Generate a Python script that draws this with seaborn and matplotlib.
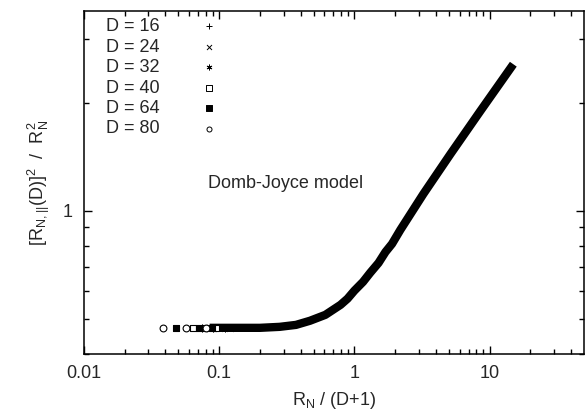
import numpy as np
import pandas as pd
import matplotlib
matplotlib.use('Agg')
import matplotlib.pyplot as plt
import seaborn as sns
from matplotlib.ticker import FixedLocator, NullFormatter, FixedFormatter

# collapsed master curve
curve_x = [0.085, 0.20, 0.28, 0.37, 0.47, 0.61, 0.79, 0.89, 1.0, 1.16, 1.31,
           1.51, 1.70, 1.90, 2.19, 3.24, 5.14, 8.58, 15.0]
curve_y = [0.473, 0.473, 0.476, 0.482, 0.495, 0.514, 0.548, 0.570, 0.600, 0.635, 0.673,
           0.717, 0.769, 0.810, 0.886, 1.115, 1.44, 1.90, 2.56]

# individual points at the small-R_N end of each series
d_labels = ['D = 16', 'D = 24', 'D = 32', 'D = 40', 'D = 64', 'D = 80']
d16_x = [0.105, 0.13, 0.16]
d16_y = [0.473, 0.473, 0.474]
d24_x = [0.085, 0.10, 0.12]
d24_y = [0.473, 0.472, 0.473]
d32_x = [0.075, 0.09, 0.11]
d32_y = [0.472, 0.473, 0.473]
d40_x = [0.064, 0.078, 0.095]
d40_y = [0.472, 0.472, 0.473]
d64_x = [0.048, 0.071, 0.088]
d64_y = [0.472, 0.472, 0.473]
d80_x = [0.0385, 0.057, 0.080]
d80_y = [0.472, 0.472, 0.472]

sns.set_style('ticks')
plt.rcParams['font.family'] = ['Liberation Sans', 'DejaVu Sans']
plt.rcParams['mathtext.default'] = 'regular'
plt.rcParams['xtick.direction'] = 'in'
plt.rcParams['ytick.direction'] = 'in'

fig = plt.figure(figsize=(5.85, 4.17), dpi=100)
ax = fig.add_axes([84 / 585, 1 - 354 / 417, 500 / 585, 343 / 417])

band = pd.DataFrame({'x': curve_x, 'y': curve_y})
sns.lineplot(data=band, x='x', y='y', ax=ax, color='black', lw=6,
             solid_capstyle='butt', legend=False, zorder=2)

series = [
    (d16_x, d16_y, '+', 'black', 'black'),
    (d24_x, d24_y, 'x', 'black', 'black'),
    (d32_x, d32_y, (6, 2, 0), 'black', 'black'),
    (d40_x, d40_y, 's', 'white', 'black'),
    (d64_x, d64_y, 's', 'black', 'black'),
    (d80_x, d80_y, 'o', 'white', 'black'),
]
handles = []
for (xs, ys, mk, fc, ec), lab in zip(series, d_labels):
    ax.scatter(xs, ys, marker=mk, s=24, facecolors=fc, edgecolors=ec,
               linewidths=0.8, zorder=3)
    h = ax.scatter([], [], marker=mk, s=13, facecolors=fc, edgecolors=ec,
                   linewidths=0.7, label=lab)
    handles.append(h)

ax.set_xscale('log')
ax.set_yscale('log')
ax.set_xlim(0.01, 50)
ax.set_ylim(0.4, 3.6)

ax.xaxis.set_major_locator(FixedLocator([0.01, 0.1, 1, 10]))
ax.xaxis.set_major_formatter(FixedFormatter(['0.01', '0.1', '1', '10']))
xmin = [m * 10.0 ** e for e in (-2, -1, 0) for m in range(2, 10)] + [20, 30, 40]
ax.xaxis.set_minor_locator(FixedLocator(xmin))
ax.xaxis.set_minor_formatter(NullFormatter())

ax.yaxis.set_major_locator(FixedLocator([1]))
ax.yaxis.set_major_formatter(FixedFormatter(['1']))
ax.yaxis.set_minor_locator(FixedLocator([0.4, 0.5, 0.6, 0.7, 0.8, 0.9, 2, 3]))
ax.yaxis.set_minor_formatter(NullFormatter())

ax.tick_params(which='major', length=6, width=1, top=True, right=True,
               labelsize=13, pad=8, color='black')
ax.tick_params(which='minor', length=3.5, width=1, top=True, right=True,
               color='black')
for s in ax.spines.values():
    s.set_linewidth(1.1)
    s.set_color('black')

ax.set_xlabel('$R_N$ / (D+1)', fontsize=13, labelpad=6)
ax.set_ylabel('$[R_{N,||}(D)]^2$  /  $R_N^2$', fontsize=13, labelpad=8)

ax.text(0.082, 1.19, 'Domb-Joyce model', fontsize=13, va='center', ha='left')

ax.legend(handles=handles, loc='upper left', bbox_to_anchor=(0.03, 1.0),
          frameon=False, markerfirst=False, fontsize=13, handlelength=1.0,
          handletextpad=2.2, labelspacing=0.19, borderaxespad=0.0)

plt.savefig('out.png', dpi=100)
